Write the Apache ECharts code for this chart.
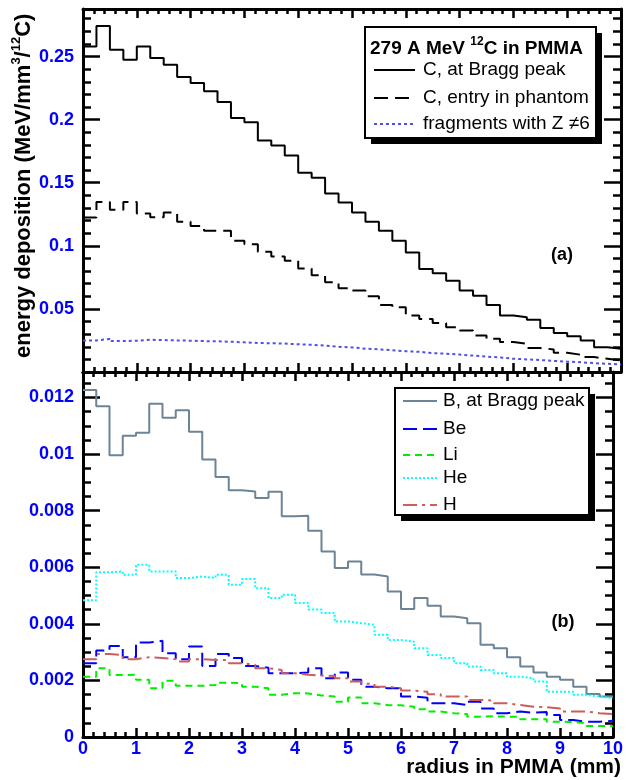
<!DOCTYPE html>
<html>
<head>
<meta charset="utf-8">
<script src="https://cdn.jsdelivr.net/npm/echarts@6/dist/echarts.min.js"></script>
<style>
html,body{margin:0;padding:0;background:#fff;}
#chart{width:626px;height:780px;}
</style>
</head>
<body>
<div id="chart"></div>
<script>
// ---- data ----
const radiusEdges = [0,0.25,0.5,0.75,1,1.25,1.5,1.75,2,2.25,2.5,2.75,3,3.25,3.5,3.75,4,4.25,4.5,4.75,5,5.25,5.5,5.75,6,6.25,6.5,6.75,7,7.25,7.5,7.75,8,8.25,8.5,8.75,9,9.25,9.5,9.75,10];
const xTicks = [0,1,2,3,4,5,6,7,8,9,10];
const yTicksA = [0.05,0.1,0.15,0.2,0.25];
const yTicksB = [0,0.002,0.004,0.006,0.008,0.01,0.012];

const cBragg = [0.258,0.2743,0.2554,0.2475,0.258,0.2488,0.2435,0.2338,0.229,0.2225,0.214,0.2014,0.198,0.1835,0.1795,0.1716,0.158,0.154,0.1415,0.1343,0.1264,0.119,0.1119,0.104,0.0948,0.0816,0.0782,0.0724,0.0645,0.0605,0.0532,0.0447,0.0434,0.0415,0.0348,0.031,0.0284,0.025,0.0197,0.0184];
const cEntry = [0.1224,0.1348,0.1285,0.1348,0.1256,0.1227,0.1264,0.119,0.1158,0.1119,0.1119,0.104,0.1013,0.0953,0.0916,0.0882,0.0821,0.0766,0.0711,0.0663,0.0645,0.06,0.0532,0.0513,0.0447,0.0421,0.0389,0.0355,0.0329,0.0289,0.0263,0.0237,0.0224,0.019,0.0179,0.0152,0.0137,0.0118,0.0105,0.0092];
const fragments = [0.025,0.0262,0.0245,0.0248,0.0255,0.0253,0.025,0.0248,0.0245,0.0243,0.024,0.0235,0.023,0.0228,0.0225,0.022,0.0215,0.021,0.02,0.0195,0.0185,0.018,0.0172,0.0165,0.016,0.015,0.0145,0.0138,0.013,0.0122,0.0115,0.0105,0.01,0.0095,0.0088,0.0082,0.0078,0.007,0.0065,0.006];

const bBragg = [0.01226,0.01169,0.00996,0.01065,0.01075,0.01178,0.01128,0.01155,0.01079,0.00981,0.00919,0.00872,0.00868,0.00845,0.00867,0.0078,0.00782,0.00729,0.00656,0.00597,0.0062,0.00574,0.00567,0.00514,0.00452,0.00491,0.00464,0.00426,0.0042,0.00402,0.00326,0.00314,0.00282,0.00249,0.00228,0.00213,0.00202,0.00178,0.00152,0.00143];
const beVals = [0.00261,0.00306,0.00322,0.00282,0.00334,0.0034,0.00296,0.00275,0.0032,0.00251,0.00293,0.00279,0.00251,0.00245,0.00225,0.00225,0.00228,0.00243,0.00208,0.00228,0.00202,0.00178,0.00172,0.00172,0.00143,0.00139,0.00119,0.00119,0.00113,0.00125,0.00101,0.00084,0.0009,0.00086,0.00088,0.00078,0.0006,0.00054,0.00054,0.00057];
const liVals = [0.00213,0.00243,0.00219,0.0022,0.00202,0.00172,0.00199,0.00181,0.00181,0.00184,0.00192,0.0019,0.00178,0.00172,0.00149,0.00155,0.00154,0.00147,0.00143,0.00125,0.0014,0.00119,0.00113,0.00112,0.00107,0.00098,0.0009,0.00084,0.00081,0.00072,0.00073,0.00072,0.00072,0.00063,0.00063,0.00054,0.00053,0.00048,0.00039,0.00039];
const heVals = [0.00483,0.00582,0.00585,0.00573,0.00609,0.00585,0.00585,0.00562,0.00567,0.00562,0.00573,0.00538,0.00558,0.00526,0.00491,0.00503,0.00474,0.00451,0.00438,0.00408,0.00402,0.00396,0.00361,0.00343,0.00337,0.00314,0.0029,0.00279,0.00261,0.00249,0.00237,0.00225,0.00213,0.00208,0.00196,0.0016,0.0016,0.00149,0.00143,0.00137];
const hVals = [0.00275,0.00293,0.0029,0.00275,0.00282,0.00279,0.00275,0.00267,0.00275,0.00272,0.00272,0.00261,0.00255,0.00243,0.00237,0.00225,0.0022,0.00217,0.00216,0.00208,0.00196,0.00188,0.00178,0.00172,0.00164,0.0016,0.00151,0.00143,0.00143,0.00131,0.00129,0.00119,0.00113,0.00107,0.00105,0.00101,0.0009,0.0009,0.00084,0.00081];

const yMaxA = 0.2877;
const yMaxB = 0.0129;

// ---- helpers ----
function histo(vals){ return radiusEdges.map((x,i)=>[x, vals[Math.min(i, vals.length-1)]]); }
const minorA = []; for (let k=1;k<=28;k++){ if(k%5) minorA.push(+(k*0.01).toFixed(4)); }
const minorB = []; for (let k=1;k<=25;k++){ if(k%4) minorB.push(+(k*0.0005).toFixed(5)); }

const FONT = 'Liberation Sans, Arial, Helvetica, sans-serif';
const BLUE = '#0000ff';
const labelStyle = {color:BLUE, fontWeight:'bold', fontSize:18, fontFamily:FONT};

function xAx(grid, pos, labels){
  return {type:'value', gridIndex:grid, position:pos, min:0, max:10, interval:1,
    axisLine:{show:true, onZero:false, lineStyle:{color:'#000', width:3}},
    axisTick:{show:true, inside:true, length:9, lineStyle:{color:'#000', width:2.5}},
    minorTick:{show:true, splitNumber:5, length:5, lineStyle:{color:'#000', width:2.5}},
    splitLine:{show:false}, minorSplitLine:{show:false},
    axisLabel:Object.assign({show:labels, margin:3, formatter:(v)=>String(v)}, labelStyle)};
}
function yAx(grid, pos, max, values, len, labels, line){
  return {type:'value', gridIndex:grid, position:pos, min:0, max:max,
    axisLine:{show:line, onZero:false, lineStyle:{color:'#000', width:3}},
    axisTick:{show:true, inside:true, length:len, customValues:values, lineStyle:{color:'#000', width:2.5}},
    splitLine:{show:false},
    axisLabel:Object.assign({show:labels, margin:9, customValues:values, formatter:(v)=>String(v)}, labelStyle)};
}

const series = [
  {name:'C, at Bragg peak', data:histo(cBragg), x:0, y:0, ls:{color:'#000', width:2, type:'solid'}},
  {name:'C, entry in phantom', data:histo(cEntry), x:0, y:0, ls:{color:'#000', width:2, type:[14,7]}},
  {name:'fragments with Z ≠6', data:histo(fragments), x:0, y:0, ls:{color:'#5050e8', width:2, type:[3,3]}},
  {name:'B, at Bragg peak', data:histo(bBragg), x:2, y:4, ls:{color:'#6c8496', width:2, type:'solid'}},
  {name:'Be', data:histo(beVals), x:2, y:4, ls:{color:'#0000ff', width:2, type:[14,6]}},
  {name:'Li', data:histo(liVals), x:2, y:4, ls:{color:'#00ee00', width:2, type:[7,5]}},
  {name:'He', data:histo(heVals), x:2, y:4, ls:{color:'#00ffff', width:2, type:[2,2]}},
  {name:'H', data:histo(hVals), x:2, y:4, ls:{color:'#cd5c5c', width:2, type:[14,5,3,5]}}
].map(s=>({type:'line', name:s.name, xAxisIndex:s.x, yAxisIndex:s.y, step:'end', symbol:'none',
  data:s.data, lineStyle:s.ls, silent:true, animation:false}));

function legendBox(x,y,w,h){
  return [
    {type:'rect', shape:{x:x+6,y:y+6,width:w,height:h}, style:{fill:'#000'}},
    {type:'rect', shape:{x:x,y:y,width:w,height:h}, style:{fill:'#fff', stroke:'#000', lineWidth:2}}
  ];
}
function entry(x1,x2,tx,y,text,ls){
  return [
    {type:'line', shape:{x1:x1,y1:y,x2:x2,y2:y}, style:{stroke:ls.color, lineWidth:2, lineDash: ls.type==='solid'?null:ls.type}},
    {type:'text', x:tx, y:y, style:{text:text, fill:'#000', font:'19px '+FONT, align:'left', verticalAlign:'middle', textAlign:'left', textVerticalAlign:'middle'}}
  ];
}

const graphic = [].concat(
  legendBox(365,27,231,111),
  [{type:'text', x:370, y:47, style:{text:'{b|279 A MeV }{s|12}{b|C in PMMA}', fill:'#000', align:'left', verticalAlign:'middle', textAlign:'left', textVerticalAlign:'middle',
      rich:{b:{fontSize:19, fontWeight:'bold', fontFamily:FONT, lineHeight:22, verticalAlign:'bottom'}, s:{fontSize:12, fontWeight:'bold', fontFamily:FONT, lineHeight:22, verticalAlign:'top', padding:[0,0,0,0]}}}}],
  entry(374,415,423,70,series[0].name, series[0].lineStyle),
  entry(374,415,423,98,series[1].name, series[1].lineStyle),
  entry(374,415,423,124,series[2].name, series[2].lineStyle),
  legendBox(395,388,194,127),
  entry(403,437,443,401,series[3].name, series[3].lineStyle),
  entry(403,437,443,429,series[4].name, series[4].lineStyle),
  entry(403,437,443,455,series[5].name, series[5].lineStyle),
  entry(403,437,443,478,series[6].name, series[6].lineStyle),
  entry(403,437,443,505,series[7].name, series[7].lineStyle),
  [
    {type:'text', x:562, y:255, style:{text:'(a)', fill:'#000', font:'bold 18px '+FONT, align:'center', verticalAlign:'middle', textAlign:'center', textVerticalAlign:'middle'}},
    {type:'text', x:563, y:622, style:{text:'(b)', fill:'#000', font:'bold 18px '+FONT, align:'center', verticalAlign:'middle', textAlign:'center', textVerticalAlign:'middle'}},
    {type:'text', x:621, y:767, style:{text:'radius in PMMA (mm)', fill:'#000', font:'bold 21px '+FONT, align:'right', verticalAlign:'middle', textAlign:'right', textVerticalAlign:'middle'}},
    {type:'text', x:22, y:358, rotation:Math.PI/2, style:{text:'{b|energy deposition (MeV/mm}{s|3}{b|/}{s|12}{b|C)}', fill:'#000', align:'left', verticalAlign:'middle', textAlign:'left', textVerticalAlign:'middle',
      rich:{b:{fontSize:22, fontWeight:'bold', fontFamily:FONT, lineHeight:25, verticalAlign:'bottom'}, s:{fontSize:13, fontWeight:'bold', fontFamily:FONT, lineHeight:25, verticalAlign:'top'}}}}
  ]
);

const option = {
  animation:false,
  backgroundColor:'#fff',
  grid:[{left:83, top:9, width:538, height:363, show:false},{left:83, top:372, width:538, height:365, show:false}],
  xAxis:[xAx(0,'bottom',false), xAx(0,'top',false), xAx(1,'bottom',true), xAx(1,'top',false)],
  yAxis:[
    yAx(0,'left',yMaxA,yTicksA,17,true,true), yAx(0,'left',yMaxA,minorA,8,false,false),
    yAx(0,'right',yMaxA,yTicksA,17,false,true), yAx(0,'right',yMaxA,minorA,8,false,false),
    yAx(1,'left',yMaxB,yTicksB,17,true,true), yAx(1,'left',yMaxB,minorB,8,false,false),
    yAx(1,'right',yMaxB,yTicksB,17,false,true), yAx(1,'right',yMaxB,minorB,8,false,false)
  ],
  series:series,
  graphic:graphic
};
const chart = echarts.init(document.getElementById('chart'), null, {renderer:'canvas'});
chart.setOption(option);
</script>
</body>
</html>
